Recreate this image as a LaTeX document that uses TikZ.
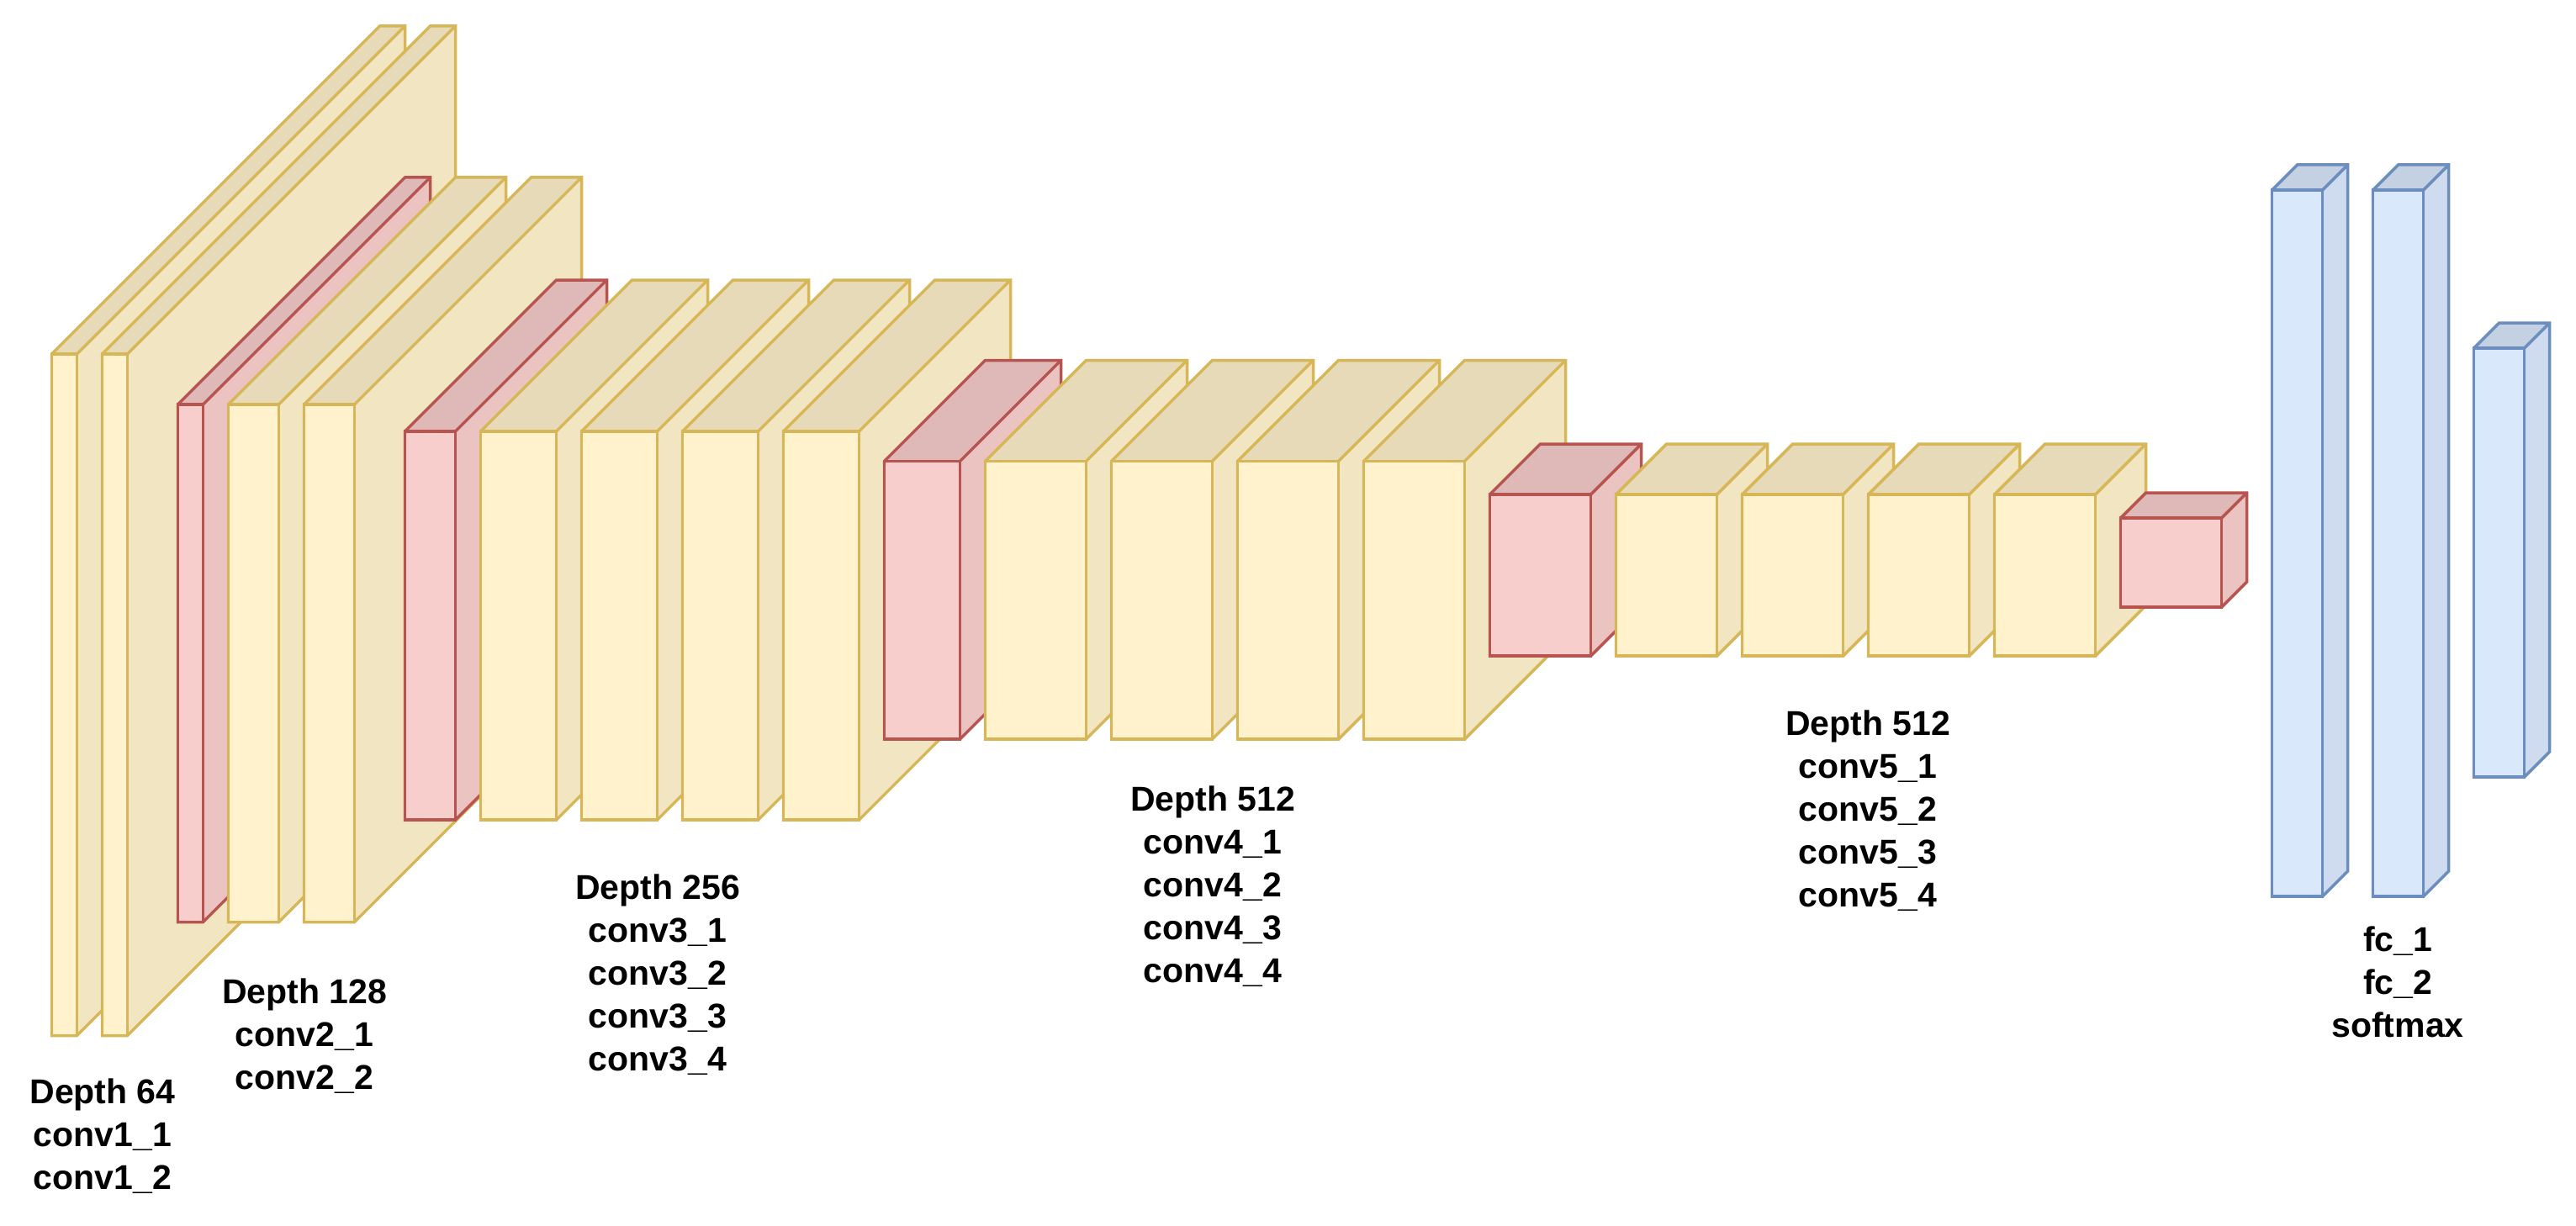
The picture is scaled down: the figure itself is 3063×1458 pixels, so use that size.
\documentclass[tikz,border=0pt]{standalone}
\usepackage{fontspec}
\setmainfont{Liberation Sans}
\definecolor{yfront}{HTML}{FFF2CC}\definecolor{yside}{HTML}{F2E6C2}\definecolor{ytop}{HTML}{E6DAB8}\definecolor{yline}{HTML}{D6B656}
\definecolor{rfront}{HTML}{F8CECC}\definecolor{rside}{HTML}{EBC4C2}\definecolor{rtop}{HTML}{DFB9B8}\definecolor{rline}{HTML}{B85450}
\definecolor{bfront}{HTML}{DAE8FC}\definecolor{bside}{HTML}{CFDCEF}\definecolor{btop}{HTML}{C4D1E3}\definecolor{bline}{HTML}{6C8EBF}
\tikzset{
  edgeline/.style={line width=3.5pt,line join=miter},
  frontface/.style={edgeline,anchor=north west,inner sep=0pt,outer sep=0pt},
  caption/.style={anchor=north,inner sep=0pt,outer sep=0pt,align=center,font=\fontsize{41}{51}\selectfont\bfseries}
}
% name, colour prefix, x, y, width, height, depth
\newcommand{\cubebox}[7]{%
  \fill[#2side] (#3+#5,#4) -- ++(#7,-#7) -- ++(0,#6) -- ++(-#7,#7) -- cycle;
  \fill[#2top] (#3,#4) -- ++(#7,-#7) -- ++(#5,0) -- ++(-#7,#7) -- cycle;
  \draw[edgeline,draw=#2line] (#3,#4) -- ++(#7,-#7) -- ++(#5,0) -- ++(0,#6) -- ++(-#7,#7) -- ++(-#5,0) -- cycle;
  \draw[edgeline,draw=#2line] (#3+#5,#4) -- ++(#7,-#7);
  \node[frontface,draw=#2line,fill=#2front,minimum width=#5pt,minimum height=#6pt] (#1) at (#3,#4) {};
}
\begin{document}
\begin{tikzpicture}[x=1pt,y=-1pt]
\useasboundingbox (0,0) rectangle (3063,1458);
\fill[white] (0,0) rectangle (3063,1458);
% block 1
\cubebox{cvA}{y}{61.5}{421}{30}{810.5}{390}
\cubebox{cvB}{y}{121.5}{421}{30}{810.5}{390}
% pool + block 2
\cubebox{poolA}{r}{211.5}{481}{30}{615.5}{270}
\cubebox{cvC}{y}{271.5}{481}{60}{615.5}{270}
\cubebox{cvD}{y}{361.5}{481}{60}{615.5}{270}
% pool + block 3
\cubebox{poolB}{r}{481.5}{513}{60}{462}{180}
\cubebox{cvE}{y}{571.5}{513}{90}{462}{180}
\cubebox{cvF}{y}{691.5}{513}{90}{462}{180}
\cubebox{cvG}{y}{811.5}{513}{90}{462}{180}
\cubebox{cvH}{y}{931.5}{513}{90}{462}{180}
% pool + block 4
\cubebox{poolC}{r}{1051.5}{548.5}{90}{330.5}{120}
\cubebox{cvI}{y}{1171.5}{548.5}{120}{330.5}{120}
\cubebox{cvJ}{y}{1321.5}{548.5}{120}{330.5}{120}
\cubebox{cvK}{y}{1471.5}{548.5}{120}{330.5}{120}
\cubebox{cvL}{y}{1621.5}{548.5}{120}{330.5}{120}
% pool + block 5
\cubebox{poolD}{r}{1771.5}{588}{120}{192}{60}
\cubebox{cvM}{y}{1921.5}{588}{120}{192}{60}
\cubebox{cvN}{y}{2071.5}{588}{120}{192}{60}
\cubebox{cvO}{y}{2221.5}{588}{120}{192}{60}
\cubebox{cvP}{y}{2371.5}{588}{120}{192}{60}
\cubebox{poolE}{r}{2521.5}{616}{120}{106}{30}
% fully connected
\cubebox{fcA}{b}{2701.5}{226}{60}{840}{30}
\cubebox{fcB}{b}{2821.5}{226}{60}{840}{30}
\cubebox{fcC}{b}{2941.5}{414}{60}{510}{30}
% captions
\node[caption] (capA) at (122,1282.5) {Depth 64\\conv1\_1\\conv1\_2};
\node[caption] (capB) at (362,1163.5) {Depth 128\\conv2\_1\\conv2\_2};
\node[caption] (capC) at (782,1040) {Depth 256\\conv3\_1\\conv3\_2\\conv3\_3\\conv3\_4};
\node[caption] (capD) at (1442,935) {Depth 512\\conv4\_1\\conv4\_2\\conv4\_3\\conv4\_4};
\node[caption] (capE) at (2221,845) {Depth 512\\conv5\_1\\conv5\_2\\conv5\_3\\conv5\_4};
\node[caption] (capF) at (2851,1102) {fc\_1\\fc\_2\\softmax};
\end{tikzpicture}
\end{document}
